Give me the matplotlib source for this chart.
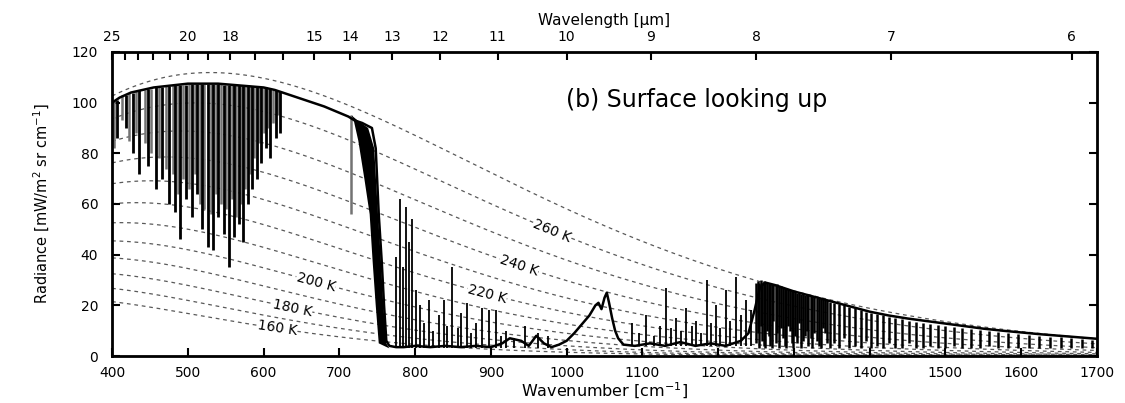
import matplotlib.pyplot as plt
import numpy as np

# Downwelling spectrum at the surface: outline of the measured radiance
# wavenumber in cm^-1, radiance in mW/(m^2 sr cm^-1)
spec_nu = [400, 410, 425, 440, 455, 470, 485, 500, 520, 540, 560, 580, 600, 615,
           625, 640, 660, 680, 700, 712, 720, 730, 743, 748, 752, 756, 759, 762,
           766, 775, 785, 800, 820, 840, 860, 880, 900, 915, 925, 940, 950, 960,
           970, 980, 990, 1000, 1010, 1020, 1030, 1038, 1042, 1046, 1050, 1053,
           1056, 1060, 1064, 1068, 1075, 1090, 1110, 1130, 1150, 1170, 1190, 1210,
           1230, 1240, 1248, 1255, 1262, 1275, 1290, 1300, 1325, 1350, 1375, 1400,
           1425, 1450, 1475, 1500, 1525, 1550, 1575, 1600, 1625, 1650, 1675, 1700]
spec_rad = [100, 102, 104, 105, 106, 106.5, 107, 107.5, 107.5, 107.5, 107, 106.5,
            106, 105, 104, 102.5, 100.5, 98.5, 96, 94.5, 93, 92, 90, 82, 56, 37,
            20, 6, 4, 3.5, 3.5, 4, 3.5, 4, 3.5, 4, 3.5, 5, 7, 6, 4, 8, 5, 3.5,
            4.5, 6, 9, 12.5, 16, 20, 21, 18.5, 23, 25, 21, 15, 10, 7, 4.5, 4, 5,
            4, 5.5, 4, 5, 4, 6, 9, 18, 27, 29, 28, 26.5, 25.5, 23.5, 21.5, 19.5,
            17.5, 16, 14.8, 13.8, 12.8, 11.8, 10.8, 10, 9.3, 8.6, 8, 7.4, 6.8]

# Saturated edge of the CO2 band (left and right boundaries)
co2_left_nu = [716, 719, 725, 733, 740, 744, 748, 752]
co2_left_rad = [95, 93, 85, 70, 56, 37, 20, 5]
co2_right_nu = [716, 724, 738, 746, 751, 755, 758, 762, 766]
co2_right_rad = [95, 93, 90, 82, 56, 37, 20, 5, 3]

# Water vapour rotational lines, far infrared (strong and weak)
rot_nu = [407, 418, 428, 436, 447, 458, 466, 475, 483, 490, 497, 505, 512, 519,
          526, 533, 540, 548, 555, 561, 567, 573, 579, 585, 591, 597, 603, 609,
          616, 622]
rot_lo = [86, 90, 80, 72, 75, 66, 70, 60, 57, 46, 62, 55, 64, 50, 43, 42, 55, 48,
          35, 47, 52, 45, 60, 66, 70, 76, 82, 78, 86, 88]
rot_hi = [101, 103, 104, 105, 105.5, 106, 106, 106.5, 107, 107, 107, 107.5, 107.5,
          107.5, 107.5, 107.5, 107.5, 107, 107, 107, 107, 106.5, 106.5, 106.5, 106,
          106, 106, 105.5, 105, 104.5]
weak_nu = [403, 413, 423, 432, 443, 452, 462, 471, 480, 487, 494, 502, 509, 516,
           522, 530, 537, 544, 551, 558, 564, 570, 576, 582, 588, 594, 600, 606,
           612, 619, 716]
weak_lo = [82, 93, 85, 88, 84, 80, 78, 74, 72, 64, 70, 66, 72, 60, 58, 56, 64, 60,
           58, 62, 55, 60, 66, 72, 78, 84, 88, 90, 92, 95, 56]
weak_hi = [101, 103, 104, 104.5, 105, 105.5, 106, 106.5, 107, 107, 107, 107.5,
           107.5, 107.5, 107.5, 107.5, 107.5, 107.5, 107, 107, 107, 107, 106.5,
           106.5, 106.5, 106, 106, 105.5, 105, 104.5, 95]

# Emission lines in the atmospheric window
win_nu = [775, 780, 784, 788, 792, 796, 801, 806, 812, 818, 823, 831, 838, 842, 849,
          856, 861, 868, 874, 880, 888, 898, 907, 913, 920, 931, 945, 962, 975,
          1086, 1095, 1105, 1115, 1123, 1131, 1138, 1144, 1151, 1158, 1165, 1171,
          1178, 1185, 1191, 1197, 1203, 1210, 1216, 1224, 1230, 1237, 1243]
win_lo = [3, 3, 3, 3, 3, 3, 3, 3, 3, 3, 3, 3, 3, 3, 3, 3, 3, 3, 3, 3, 3, 3, 3, 3,
          3, 3, 3, 3, 3, 4, 4, 4, 4, 4, 4, 4, 4, 4, 4, 4, 4, 4, 4, 4, 4, 4, 4, 4,
          4, 4, 4, 4]
win_hi = [39, 62, 35, 59, 45, 54, 26, 20, 13, 22, 10, 16, 22, 12, 35, 11, 17, 21,
          9, 13, 19, 18, 18, 8, 10, 7, 12, 9, 8, 13, 9, 16, 8, 12, 27, 11, 15, 10,
          19, 12, 14, 9, 30, 13, 20, 11, 26, 14, 31, 16, 22, 18]

# Water vapour 6.3 um band lines
band_nu = [1250, 1252, 1254, 1256, 1258, 1260, 1262, 1265, 1267, 1269, 1271, 1273,
           1276, 1278, 1280, 1283, 1285, 1288, 1290, 1292, 1295, 1297, 1299, 1302,
           1304, 1307, 1309, 1312, 1314, 1317, 1319, 1322, 1324, 1327, 1330, 1333,
           1336, 1339, 1341, 1344, 1347, 1353, 1360, 1366, 1373, 1380, 1388, 1395,
           1402, 1410, 1418, 1426, 1434, 1443, 1452, 1461, 1470, 1480, 1490, 1500,
           1511, 1522, 1534, 1546, 1558, 1570, 1583, 1596, 1610, 1624, 1638, 1652,
           1666, 1680, 1694]
band_lo = [5, 9, 3, 12, 6, 4, 3, 10, 8, 4, 3, 14, 5, 9, 3, 11, 7, 4, 3, 12, 10, 5,
           3, 8, 5, 13, 3, 6, 8, 10, 4, 7, 3, 9, 6, 4, 3, 11, 9, 5, 3, 5, 3, 7, 3,
           4, 3, 6, 3, 4, 3, 5, 3, 3, 5, 3, 3, 4, 3, 3, 4, 3, 3, 3, 4, 3, 3, 3, 3,
           3, 3, 3, 3, 3, 3]
band_hi = [29, 29.5, 29, 30, 29, 29.5, 29, 29, 28.5, 29, 28.5, 28, 28, 28.5, 27.5,
           27.5, 27, 27, 26.5, 26.5, 26, 26, 25.5, 25.5, 25, 25, 24.5, 24.5, 24,
           24, 24, 23.5, 23.5, 23.5, 23, 23, 22.5, 22.5, 22, 22, 21.5, 21, 20.5,
           20, 19.5, 19, 18, 17.5, 17, 16.5, 16, 15.5, 15, 14.5, 14, 13.5, 13, 12.8,
           12.3, 12, 11.5, 11, 10.6, 10.2, 9.8, 9.5, 9.1, 8.8, 8.4, 8, 7.7, 7.4,
           7.1, 6.8, 6.5]

# Blackbody reference curves
bb_temps = [160, 170, 180, 190, 200, 210, 220, 230, 240, 250, 260, 270]
label_temps = [160, 180, 200, 220, 240, 260]
label_nu = [618, 638, 669, 895, 937, 981]

wl_ticks = list(range(6, 26))
wl_labels = [25, 20, 18, 15, 14, 13, 12, 11, 10, 9, 8, 7, 6]


def planck(nu, temp):
    # radiance in mW/(m^2 sr cm^-1)
    return 1.191042e-5 * nu ** 3 / np.expm1(1.4387769 * nu / temp)


fig = plt.figure(figsize=(11.25, 4.03), dpi=100)
ax = fig.add_axes([0.0996, 0.1166, 0.8755, 0.7544])
ax.set_xlim(400, 1700)
ax.set_ylim(0, 120)

nu_grid = np.linspace(400, 1700, 600)
for t in bb_temps:
    ax.plot(nu_grid, planck(nu_grid, t), color='0.35', lw=0.9,
            dashes=(3, 3), zorder=1)

ax.vlines(weak_nu, weak_lo, weak_hi, color='0.45', lw=1.8, zorder=2)
ax.vlines(rot_nu, rot_lo, rot_hi, color='black', lw=2.0, zorder=3)
ax.vlines(win_nu, win_lo, win_hi, color='black', lw=1.3, zorder=3)
ax.vlines(band_nu, band_lo, band_hi, color='black', lw=1.8, zorder=3)
ax.fill(co2_left_nu + co2_right_nu[::-1], co2_left_rad + co2_right_rad[::-1],
        color='black', lw=0, zorder=3)
ax.plot(spec_nu, spec_rad, color='black', lw=1.8, zorder=4)

fig.canvas.draw()
for t, nu in zip(label_temps, label_nu):
    y = planck(nu, t)
    p0 = ax.transData.transform((nu - 10, planck(nu - 10, t)))
    p1 = ax.transData.transform((nu + 10, planck(nu + 10, t)))
    ang = np.degrees(np.arctan2(p1[1] - p0[1], p1[0] - p0[0]))
    ax.text(nu, y, f'{t} K', fontsize=10, rotation=ang, rotation_mode='anchor',
            ha='center', va='center', zorder=5,
            bbox=dict(facecolor='white', edgecolor='none', pad=0.3))

ax.text(0.461, 0.842, '(b) Surface looking up', transform=ax.transAxes,
        fontsize=17, ha='left', va='center')

ax.set_xticks(range(400, 1701, 100))
ax.set_yticks(range(0, 121, 20))
ax.tick_params(axis='both', direction='in', length=6, width=1.5, labelsize=10)
ax.tick_params(axis='y', right=True, pad=10)
ax.tick_params(axis='x', pad=7)
for s in ax.spines.values():
    s.set_linewidth(2)
ax.set_xlabel('Wavenumber [cm$^{-1}$]', fontsize=11.5, labelpad=1)
ax.set_ylabel('Radiance [mW/m$^2$ sr cm$^{-1}$]', fontsize=10.5, labelpad=14)

top = ax.twiny()
top.set_xlim(ax.get_xlim())
top.set_xticks([1e4 / w for w in wl_ticks])
top.set_xticklabels([str(w) if w in wl_labels else '' for w in wl_ticks])
top.tick_params(direction='in', length=6, width=1.5, labelsize=10, pad=6)
top.set_xlabel('Wavelength [\u03bcm]', fontsize=11, labelpad=3)

fig.savefig('out.png', dpi=100)
